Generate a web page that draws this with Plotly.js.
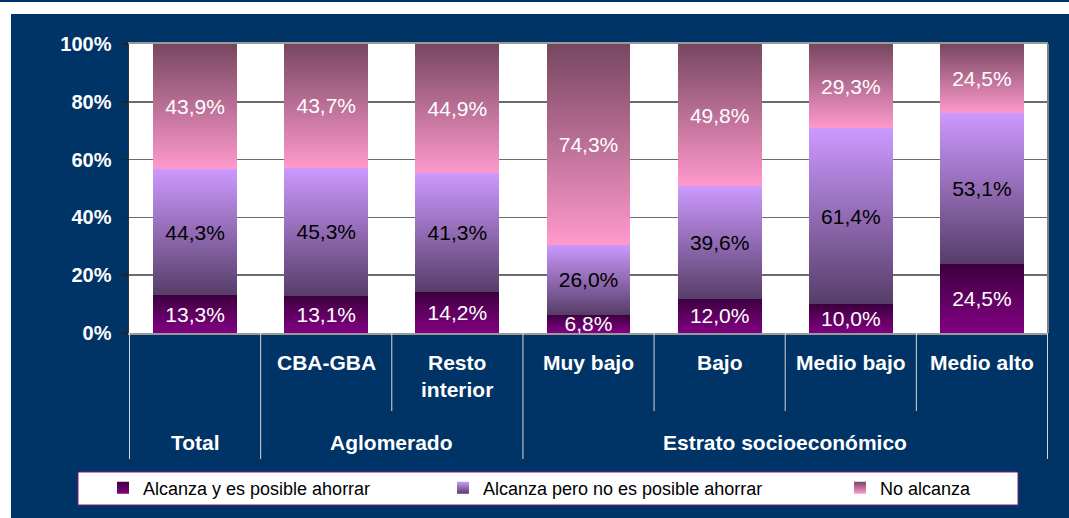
<!DOCTYPE html>
<html>
<head>
<meta charset="utf-8">
<script src="https://cdn.plot.ly/plotly-3.0.1.min.js"></script>
<style>
  html, body { margin: 0; padding: 0; background: #ffffff; width: 1069px; height: 518px; overflow: hidden; }
  #topline { position: absolute; left: 0; top: 0; width: 1069px; height: 2px; background: #003366; }
  #chart { position: absolute; left: 11px; top: 14px; width: 1058px; height: 504px; }
</style>
</head>
<body>
<div id="topline"></div>
<div id="chart"></div>
<script>
// ---- data ----
const categories = ['Total', 'CBA-GBA', 'Resto interior', 'Muy bajo', 'Bajo', 'Medio bajo', 'Medio alto'];
const subLabels = ['', 'CBA-GBA', 'Resto<br>interior', 'Muy bajo', 'Bajo', 'Medio bajo', 'Medio alto'];
const groupLabels = ['Total', 'Aglomerado', 'Estrato socioeconómico'];
const groupSpans = [[0, 0], [1, 2], [3, 6]];
const seriesNames = ['Alcanza y es posible ahorrar', 'Alcanza pero no es posible ahorrar', 'No alcanza'];
const alcanzaAhorra = [13.3, 13.1, 14.2, 6.8, 12.0, 10.0, 24.5];
const alcanzaNoAhorra = [44.3, 45.3, 41.3, 26.0, 39.6, 61.4, 53.1];
const noAlcanza = [43.9, 43.7, 44.9, 74.3, 49.8, 29.3, 24.5];
const yTickVals = [0, 20, 40, 60, 80, 100];
const yTickText = ['0%', '20%', '40%', '60%', '80%', '100%'];

// ---- styling ----
const FONT = 'Arial, "Liberation Sans", sans-serif';
const NAVY = '#003366';
const baseColors = ['#800080', '#a07ccc', '#d07fac'];
const textColors = ['#ffffff', '#000000', '#ffffff'];
const gradStops = [
  ['#3d003f', '#820082'],   // top -> bottom
  ['#cc99ff', '#573d68'],
  ['#774760', '#ff99cc']
];

const PLOT_L = 118, PLOT_T = 30, PLOT_R = 21, PLOT_B = 185;
const DIV_W = 1058, DIV_H = 504;
const PW = DIV_W - PLOT_L - PLOT_R, PH = DIV_H - PLOT_T - PLOT_B;
const px2x = px => (px - PLOT_L) / PW;           // div px -> paper x
const py2y = py => (DIV_H - PLOT_B - py) / PH;   // div px -> paper y

const fmt = v => v.toFixed(1).replace('.', ',') + '%';
const seriesValues = [alcanzaAhorra, alcanzaNoAhorra, noAlcanza];
const legendIds = ['legend', 'legend2', 'legend3'];

const data = seriesValues.map((vals, i) => ({
  type: 'bar',
  name: seriesNames[i],
  x: categories,
  y: vals,
  text: vals.map(fmt),
  textposition: 'inside',
  insidetextanchor: 'middle',
  textangle: 0,
  constraintext: 'none',
  cliponaxis: false,
  textfont: { family: FONT, size: 21, color: textColors[i] },
  marker: { color: baseColors[i], line: { width: 0 } },
  legend: legendIds[i],
  hoverinfo: 'skip'
}));

// separators below the category axis
const shapes = [];
const shortLen = 78 / PH, longLen = 126 / PH;
const longBounds = new Set();
groupSpans.forEach(([s, e]) => { longBounds.add(s - 0.5); longBounds.add(e + 0.5); });
for (let b = -0.5; b <= categories.length - 0.5; b += 1) {
  shapes.push({
    type: 'line', xref: 'x', yref: 'paper', x0: b, x1: b, y0: 0,
    y1: -(longBounds.has(b) ? longLen : shortLen),
    line: { color: '#d8d8d8', width: 1 }
  });
}
// right border of plot area
shapes.push({ type: 'line', xref: 'paper', yref: 'paper', x0: 1, x1: 1, y0: 0, y1: 1,
  line: { color: '#808080', width: 2 } });
// legend box
shapes.push({ type: 'rect', xref: 'paper', yref: 'paper',
  x0: px2x(67), x1: px2x(1007), y0: py2y(491), y1: py2y(458),
  fillcolor: '#ffffff', line: { color: '#7a1f7a', width: 1 }, layer: 'above' });

const annotations = [];
subLabels.forEach((t, i) => {
  if (!t) return;
  annotations.push({ xref: 'x', yref: 'paper', x: i, y: 0, yanchor: 'top', xanchor: 'center',
    yshift: -16, text: t, showarrow: false,
    font: { family: FONT, size: 21, color: '#ffffff', weight: 'bold' } });
});
groupLabels.forEach((t, g) => {
  const [s, e] = groupSpans[g];
  annotations.push({ xref: 'x', yref: 'paper', x: (s + e) / 2, y: 0, yanchor: 'middle', xanchor: 'center',
    yshift: -109, text: t, showarrow: false,
    font: { family: FONT, size: 21, color: '#ffffff', weight: 'bold' } });
});

const legendTextStart = [132, 472, 869];
const legendBase = {
  orientation: 'h', xanchor: 'left', yanchor: 'middle', y: py2y(474),
  bgcolor: 'rgba(0,0,0,0)', borderwidth: 0,
  font: { family: FONT, size: 18, color: '#000000' }
};
const layout = {
  width: DIV_W, height: DIV_H,
  paper_bgcolor: NAVY, plot_bgcolor: '#ffffff',
  margin: { l: PLOT_L, r: PLOT_R, t: PLOT_T, b: PLOT_B, pad: 0, autoexpand: false },
  barmode: 'stack', barnorm: 'percent', bargap: 0.36,
  showlegend: true,
  font: { family: FONT, color: '#ffffff' },
  xaxis: {
    type: 'category', showticklabels: false, ticks: '',
    showline: true, linecolor: '#9a9a9a', linewidth: 2, mirror: true,
    showgrid: false, zeroline: false, fixedrange: true
  },
  yaxis: {
    range: [0, 100.02], tickmode: 'array', tickvals: yTickVals, ticktext: yTickText,
    ticks: 'outside', ticklen: 6, tickcolor: '#222222', tickwidth: 1.5,
    ticklabelstandoff: 6,
    tickfont: { family: FONT, size: 20, color: '#ffffff', weight: 'bold' },
    showline: true, linecolor: '#333333', linewidth: 1.5,
    showgrid: true, gridcolor: '#6b6b6b', gridwidth: 1.5,
    zeroline: false, fixedrange: true
  },
  shapes: shapes,
  annotations: annotations
};
legendIds.forEach((id, i) => {
  layout[id] = Object.assign({}, legendBase, { x: px2x(legendTextStart[i] - 40) });
});

const gd = document.getElementById('chart');
Plotly.newPlot(gd, data, layout, { displayModeBar: false, staticPlot: true }).then(applyGradients);

function applyGradients() {
  const ns = 'http://www.w3.org/2000/svg';
  const svg = gd.querySelector('.main-svg');
  let defs = svg.querySelector('defs');
  if (!defs) { defs = document.createElementNS(ns, 'defs'); svg.insertBefore(defs, svg.firstChild); }
  gradStops.forEach((stops, i) => {
    const lg = document.createElementNS(ns, 'linearGradient');
    lg.setAttribute('id', 'bargrad' + i);
    lg.setAttribute('x1', '0'); lg.setAttribute('y1', '0');
    lg.setAttribute('x2', '0'); lg.setAttribute('y2', '1');
    stops.forEach((c, k) => {
      const st = document.createElementNS(ns, 'stop');
      st.setAttribute('offset', k === 0 ? '0' : '1');
      st.setAttribute('stop-color', c);
      lg.appendChild(st);
    });
    defs.appendChild(lg);
  });
  gd.querySelectorAll('.barlayer .trace.bars').forEach((tr, i) => {
    tr.querySelectorAll('.point path').forEach(p => { p.style.fill = 'url(#bargrad' + i + ')'; });
  });
  legendIds.forEach((id, i) => {
    gd.querySelectorAll('g.' + id + ' .legendpoints path').forEach(p => {
      p.style.fill = 'url(#bargrad' + i + ')';
    });
  });
}
</script>
</body>
</html>
